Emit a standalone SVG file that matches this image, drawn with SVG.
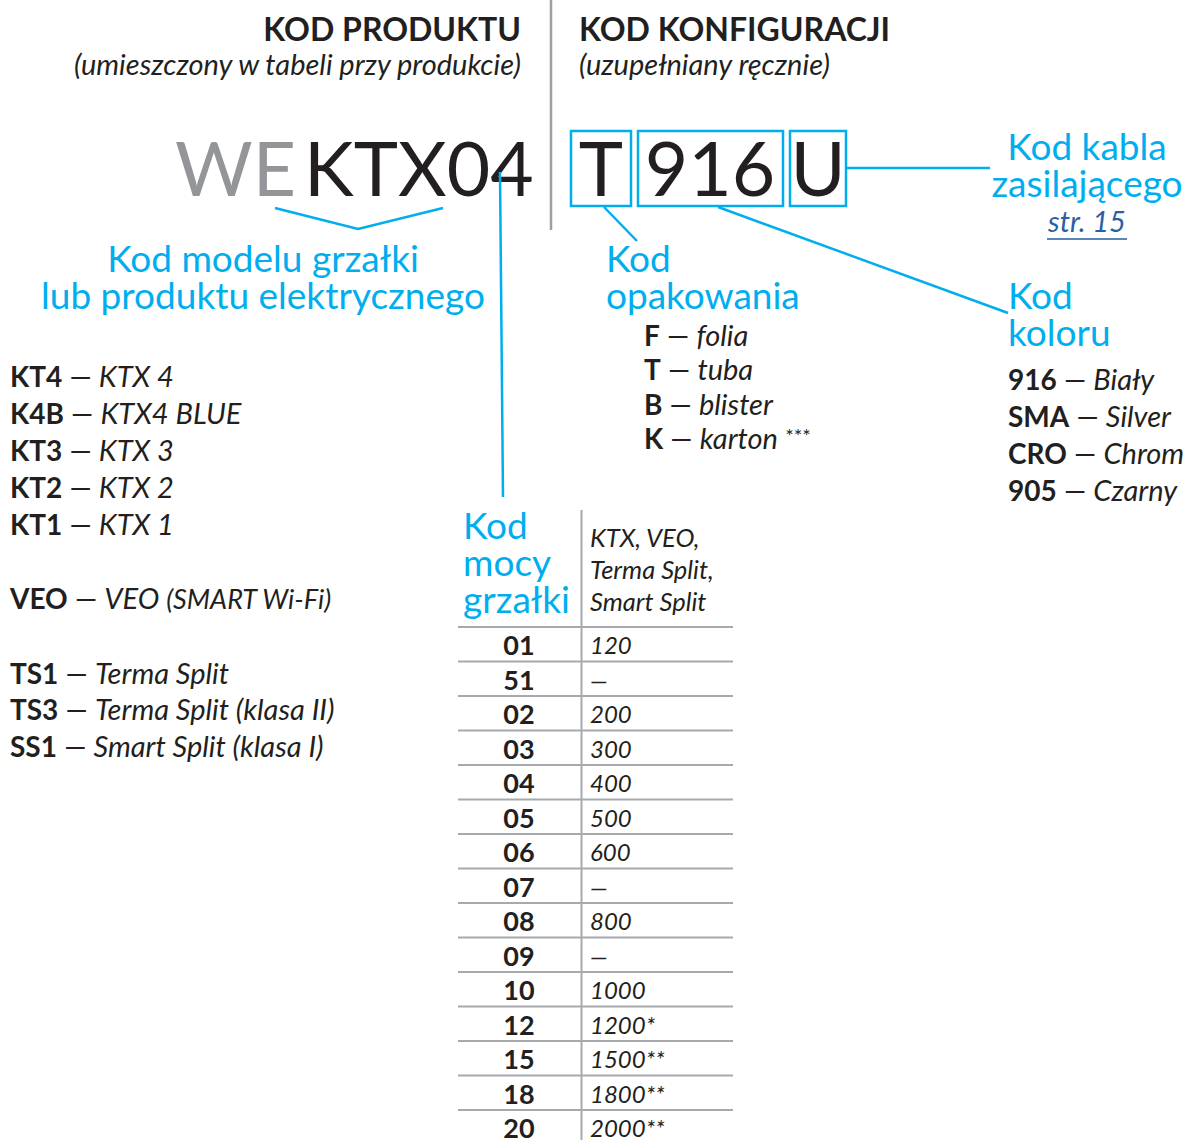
<svg xmlns="http://www.w3.org/2000/svg" width="1189" height="1140" viewBox="0 0 1189 1140">
<style>
text{font-family:Lato,"Open Sans","DejaVu Sans",sans-serif;fill:#231f20}
.h{font-weight:700;font-size:32px}
.sub{font-style:italic;font-size:29px}
.big{font-size:75px}
.lbl{fill:#00aeef;font-size:37px}
.li{font-size:28px}
.b{font-weight:700}
.i{font-style:italic;font-size:29px}
.code{font-weight:700;font-size:27px;text-anchor:middle}
.val{font-style:italic;font-size:24px}
.hd{font-style:italic;font-size:25.5px}
.con{stroke:#00aeef;stroke-width:2.5;fill:none}
.box{stroke:#00aeef;stroke-width:2.5;fill:none}
.grid{stroke:#a7a9ac;stroke-width:2}
</style>
<g id="divider"><line x1="551" y1="0" x2="551" y2="230" stroke="#9d9fa2" stroke-width="2.5"/></g>
<g id="header-product">
<text class="h" x="521" y="41" text-anchor="end">KOD PRODUKTU</text>
<text class="sub" x="521" y="75" text-anchor="end">(umieszczony w tabeli przy produkcie)</text>
</g>
<g id="header-config">
<text class="h" x="579" y="41">KOD KONFIGURACJI</text>
<text class="sub" x="579" y="75">(uzupełniany ręcznie)</text>
</g>
<g id="code-product">
<text class="big" x="175" y="196" style="fill:#939598">WE</text>
<text class="big" x="304" y="196">KTX04</text>
</g>
<g id="code-config">
<rect class="box" x="571" y="131" width="60" height="75"/>
<rect class="box" x="638" y="131" width="145" height="75"/>
<rect class="box" x="790" y="131" width="56" height="75"/>
<text class="big" x="601" y="196" text-anchor="middle">T</text>
<text class="big" x="710" y="196" text-anchor="middle">916</text>
<text class="big" x="818" y="196" text-anchor="middle">U</text>
</g>
<g id="connectors">
<polyline class="con" points="275,208 358,229 443,208"/>
<line class="con" x1="500" y1="172" x2="503" y2="497"/>
<line class="con" x1="604" y1="207" x2="637" y2="241"/>
<line class="con" x1="718" y1="207" x2="1008" y2="313"/>
<line class="con" x1="846" y1="168" x2="990" y2="168"/>
</g>
<g id="label-model">
<text class="lbl" x="263" y="272" text-anchor="middle">Kod modelu grzałki</text>
<text class="lbl" x="263" y="309" text-anchor="middle">lub produktu elektrycznego</text>
</g>
<g id="label-pack">
<text class="lbl" x="606" y="272">Kod</text>
<text class="lbl" x="606" y="309">opakowania</text>
<text class="li" x="644" y="346"><tspan class="b">F</tspan> — <tspan class="i">folia</tspan></text>
<text class="li" x="644" y="380"><tspan class="b">T</tspan> — <tspan class="i">tuba</tspan></text>
<text class="li" x="644" y="415"><tspan class="b">B</tspan> — <tspan class="i">blister</tspan></text>
<text class="li" x="644" y="449"><tspan class="b">K</tspan> — <tspan class="i">karton</tspan> <tspan style="font-size:20px" dy="-6">***</tspan></text>
</g>
<g id="label-cable">
<text class="lbl" x="1087" y="160" text-anchor="middle">Kod kabla</text>
<text class="lbl" x="1087" y="197" text-anchor="middle">zasilającego</text>
<text x="1087" y="232" text-anchor="middle" style="font-style:italic;font-size:29px;fill:#2a5ea6">str. 15</text>
<line x1="1047" y1="239" x2="1127" y2="239" stroke="#5b84b9" stroke-width="2"/>
</g>
<g id="label-color">
<text class="lbl" x="1008" y="309">Kod</text>
<text class="lbl" x="1008" y="346">koloru</text>
<text class="li" x="1008" y="390"><tspan class="b">916</tspan> — <tspan class="i">Biały</tspan></text>
<text class="li" x="1008" y="427"><tspan class="b">SMA</tspan> — <tspan class="i">Silver</tspan></text>
<text class="li" x="1008" y="464"><tspan class="b">CRO</tspan> — <tspan class="i">Chrom</tspan></text>
<text class="li" x="1008" y="501"><tspan class="b">905</tspan> — <tspan class="i">Czarny</tspan></text>
</g>
<g id="list-models">
<text class="li" x="10" y="387"><tspan class="b">KT4</tspan> — <tspan class="i">KTX 4</tspan></text>
<text class="li" x="10" y="424"><tspan class="b">K4B</tspan> — <tspan class="i">KTX4 BLUE</tspan></text>
<text class="li" x="10" y="461"><tspan class="b">KT3</tspan> — <tspan class="i">KTX 3</tspan></text>
<text class="li" x="10" y="498"><tspan class="b">KT2</tspan> — <tspan class="i">KTX 2</tspan></text>
<text class="li" x="10" y="535"><tspan class="b">KT1</tspan> — <tspan class="i">KTX 1</tspan></text>
<text class="li" x="10" y="609"><tspan class="b">VEO</tspan> — <tspan class="i">VEO <tspan style="font-size:27px">(SMART Wi-Fi)</tspan></tspan></text>
<text class="li" x="10" y="684"><tspan class="b">TS1</tspan> — <tspan class="i">Terma Split</tspan></text>
<text class="li" x="10" y="720"><tspan class="b">TS3</tspan> — <tspan class="i">Terma Split (klasa II)</tspan></text>
<text class="li" x="10" y="757"><tspan class="b">SS1</tspan> — <tspan class="i">Smart Split (klasa I)</tspan></text>
</g>
<g id="table-power">
<text class="lbl" x="463" y="539">Kod</text>
<text class="lbl" x="463" y="576">mocy</text>
<text class="lbl" x="463" y="613">grzałki</text>
<text class="hd" x="590" y="547">KTX, VEO,</text>
<text class="hd" x="590" y="579">Terma Split,</text>
<text class="hd" x="590" y="611">Smart Split</text>
<line class="grid" x1="581.5" y1="510" x2="581.5" y2="1140"/>
<g class="grid">
<line x1="458" y1="627" x2="733" y2="627"/>
<line x1="458" y1="661.5" x2="733" y2="661.5"/>
<line x1="458" y1="696" x2="733" y2="696"/>
<line x1="458" y1="730.5" x2="733" y2="730.5"/>
<line x1="458" y1="765" x2="733" y2="765"/>
<line x1="458" y1="799.5" x2="733" y2="799.5"/>
<line x1="458" y1="834" x2="733" y2="834"/>
<line x1="458" y1="868.5" x2="733" y2="868.5"/>
<line x1="458" y1="903" x2="733" y2="903"/>
<line x1="458" y1="937.5" x2="733" y2="937.5"/>
<line x1="458" y1="972" x2="733" y2="972"/>
<line x1="458" y1="1006.5" x2="733" y2="1006.5"/>
<line x1="458" y1="1041" x2="733" y2="1041"/>
<line x1="458" y1="1075.5" x2="733" y2="1075.5"/>
<line x1="458" y1="1110" x2="733" y2="1110"/>
</g>
<text class="code" x="519" y="655">01</text><text class="val" x="590" y="654">120</text>
<text class="code" x="519" y="689.5">51</text><text class="val" x="590" y="688.5">—</text>
<text class="code" x="519" y="724">02</text><text class="val" x="590" y="723">200</text>
<text class="code" x="519" y="758.5">03</text><text class="val" x="590" y="757.5">300</text>
<text class="code" x="519" y="793">04</text><text class="val" x="590" y="792">400</text>
<text class="code" x="519" y="827.5">05</text><text class="val" x="590" y="826.5">500</text>
<text class="code" x="519" y="862">06</text><text class="val" x="590" y="861">600</text>
<text class="code" x="519" y="896.5">07</text><text class="val" x="590" y="895.5">—</text>
<text class="code" x="519" y="931">08</text><text class="val" x="590" y="930">800</text>
<text class="code" x="519" y="965.5">09</text><text class="val" x="590" y="964.5">—</text>
<text class="code" x="519" y="1000">10</text><text class="val" x="590" y="999">1000</text>
<text class="code" x="519" y="1034.5">12</text><text class="val" x="590" y="1033.5">1200*</text>
<text class="code" x="519" y="1069">15</text><text class="val" x="590" y="1068">1500**</text>
<text class="code" x="519" y="1103.5">18</text><text class="val" x="590" y="1102.5">1800**</text>
<text class="code" x="519" y="1138">20</text><text class="val" x="590" y="1137">2000**</text>
</g>
</svg>
